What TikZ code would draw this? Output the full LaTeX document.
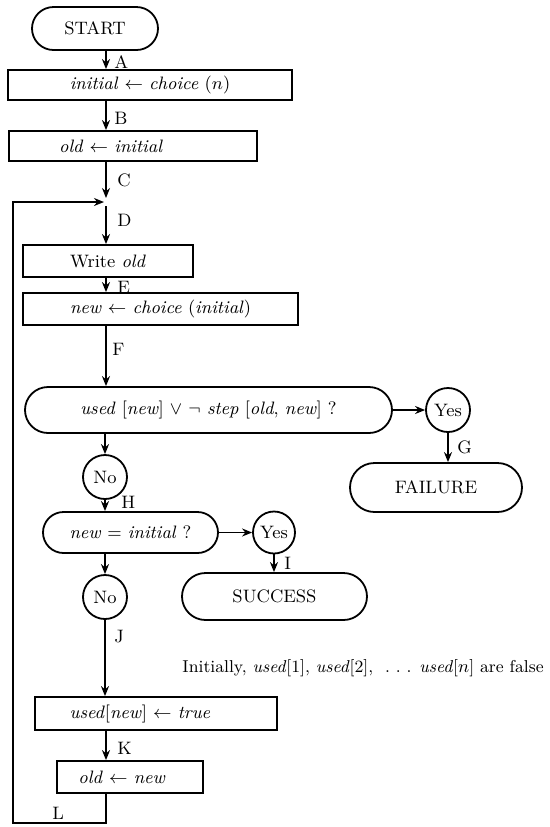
\documentclass[tikz,border=0pt]{standalone}
\usetikzlibrary{shapes.misc,arrows.meta}
\begin{document}
\begin{tikzpicture}[x=0.5pt,y=-0.5pt,
  lw/.style={line width=0.9pt},
  box/.style={draw,lw,rectangle,inner sep=0pt,font=\small},
  term/.style={draw,lw,rounded rectangle,inner sep=0pt,font=\small},
  circ/.style={draw,lw,circle,inner sep=0pt,minimum size=22pt,font=\small},
  txt/.style={font=\small,inner sep=0pt},
  lab/.style={font=\small,inner sep=0pt,anchor=west},
  arr/.style={lw,-{Stealth[length=5pt,width=4pt]}}]
\useasboundingbox (0,0) rectangle (550,827);
\coordinate (ax) at (106,0);
\coordinate (jn) at (106,202);
% nodes
\node[term,minimum width=63pt,minimum height=21.5pt] (start) at (95,28.5) {START};
\node[box,minimum width=142pt,minimum height=15pt] (init) at (150,85) {\textit{initial} $\leftarrow$ \textit{choice} ($n$)};
\node[box,minimum width=124pt,minimum height=15pt] (old) at (133,146) {};
\node[txt] (oldt) at (111,146) {\textit{old} $\leftarrow$ \textit{initial}};
\node[box,minimum width=85pt,minimum height=16pt] (write) at (108,261) {Write \textit{old}};
\node[box,minimum width=137.5pt,minimum height=16pt] (new) at (160.5,309) {\textit{new} $\leftarrow$ \textit{choice} (\textit{initial})};
\node[term,minimum width=183.5pt,minimum height=23pt] (cond) at (208.5,410) {\textit{used} [\textit{new}] $\vee$ $\neg$ \textit{step} [\textit{old}, \textit{new}] ?};
\node[circ] (yes1) at (448,410) {Yes};
\node[term,minimum width=86pt,minimum height=24.5pt] (fail) at (436,487.5) {FAILURE};
\node[circ] (no1) at (105,477) {No};
\node[term,minimum width=87.5pt,minimum height=20.5pt] (eq) at (130.5,532.5) {\textit{new} = \textit{initial} ?};
\node[circ,minimum size=21pt] (yes2) at (274,532.5) {Yes};
\node[term,minimum width=92.5pt,minimum height=23.5pt] (succ) at (274.5,596.5) {SUCCESS};
\node[circ] (no2) at (105,597) {No};
\node[inner sep=0pt,anchor=west,font=\fontsize{8.6pt}{10pt}\selectfont] (note) at (182,668) {Initially, \textit{used}[1], \textit{used}[2], \ .\ .\ . \textit{used}[$n$] are false};
\node[box,minimum width=121pt,minimum height=16.5pt] (used) at (156,713.5) {};
\node[txt] (usedt) at (140,713.5) {\textit{used}[\textit{new}] $\leftarrow$ \textit{true}};
\node[box,minimum width=73pt,minimum height=16pt] (oldnew) at (130,777) {};
\node[txt] (oldnewt) at (122,777) {\textit{old} $\leftarrow$ \textit{new}};
\coordinate (lb) at (106,823);
\coordinate (ll) at (13,823);
\coordinate (lt) at (13,202);
% connectors
\draw[arr] (start.south -| ax) -- (init.north -| ax);
\draw[arr] (init.south -| ax) -- (old.north -| ax);
\draw[arr,shorten >=2pt] (old.south -| ax) -- (jn);
\draw[arr,shorten >=1pt] (oldnew.south -| ax) -- (lb) -- (ll) -- (lt) -- (jn);
\draw[arr,shorten <=2pt] (jn) -- (write.north -| ax);
\draw[arr] (write.south -| ax) -- (new.north -| ax);
\draw[arr] (new.south -| ax) -- (cond.north -| ax);
\draw[arr] (cond.east) -- (yes1.west);
\draw[arr] (yes1.south) -- (yes1.south |- fail.north);
\draw[arr] (cond.south -| no1) -- (no1.north);
\draw[arr] (no1.south) -- (no1.south |- eq.north);
\draw[arr] (eq.east) -- (yes2.west);
\draw[arr] (yes2.south) -- (yes2.south |- succ.north);
\draw[arr] (eq.south -| no2) -- (no2.north);
\draw[arr] (no2.south) -- (no2.south |- used.north);
\draw[arr] (used.south -| ax) -- (oldnew.north -| ax);
% labels
\node[lab] (la) at (114,62) {A};
\node[lab] (lbB) at (114,118) {B};
\node[lab] (lc) at (117,180) {C};
\node[lab] (ld) at (117,220) {D};
\node[lab] (le) at (117,287) {E};
\node[lab] (lf) at (112,349) {F};
\node[lab] (lg) at (457,447) {G};
\node[lab] (lh) at (121,502) {H};
\node[lab] (li) at (284,563) {I};
\node[lab] (lj) at (114,637) {J};
\node[lab] (lk) at (117,748) {K};
\node[lab] (lL) at (52,813) {L};
\end{tikzpicture}
\end{document}
